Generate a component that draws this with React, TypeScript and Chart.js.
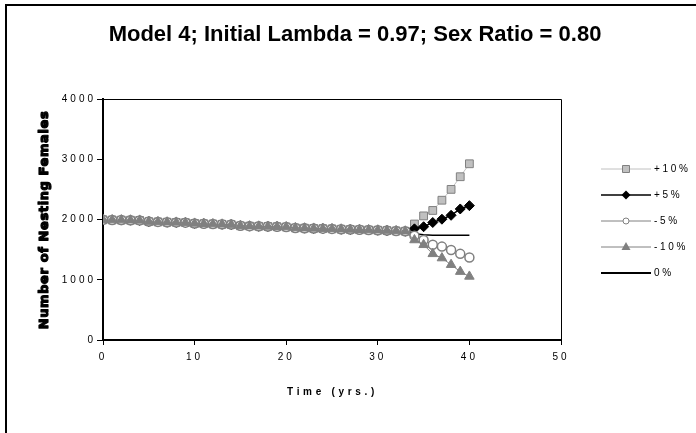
import React, { useEffect, useRef } from "react";
import { Chart, registerables } from "chart.js";

Chart.register(...registerables);

const TITLE = "Model 4; Initial Lambda = 0.97; Sex Ratio = 0.80";
const X_TITLE = "Time (yrs.)";
const Y_TITLE = "Number of Nesting Females";

const YEARS = [0, 1, 2, 3, 4, 5, 6, 7, 8, 9, 10, 11, 12, 13, 14, 15, 16, 17, 18, 19, 20, 21, 22, 23, 24, 25, 26, 27, 28, 29, 30, 31, 32, 33, 34, 35, 36, 37, 38, 39, 40];

// shared history, years 0-33
const HISTORY = [1995, 1992, 1990, 1988, 1985, 1965, 1960, 1955, 1952, 1948, 1935, 1930, 1925, 1920, 1915, 1895, 1890, 1887, 1884, 1880, 1876, 1860, 1856, 1852, 1848, 1844, 1838, 1834, 1830, 1826, 1822, 1816, 1810, 1805];

// projections, years 34-40
const PLUS10 = [1925, 2060, 2150, 2320, 2500, 2710, 2925];
const PLUS5 = [1845, 1880, 1950, 2005, 2070, 2175, 2230];
const MINUS5 = [1730, 1660, 1580, 1550, 1495, 1430, 1370];
const MINUS10 = [1660, 1580, 1430, 1360, 1250, 1135, 1055];
const ZERO = [1765, 1745, 1740, 1740, 1740, 1740, 1740];

const SERIES_LABELS = ["+10%", "+5%", "-5%", "-10%", "0%"];

const X_MIN = 0, X_MAX = 50, X_STEP = 10;
const Y_MIN = 0, Y_MAX = 4000, Y_STEP = 1000;

const toPoints = (proj: number[]) =>
  YEARS.map((x, i) => ({ x, y: i < HISTORY.length ? HISTORY[i] : proj[i - HISTORY.length] }));

const FONT = '"Liberation Sans", Arial, sans-serif';

export default function App() {
  const ref = useRef<HTMLCanvasElement | null>(null);

  useEffect(() => {
    const canvas = ref.current;
    if (!canvas) return;

    const styles = [
      { line: "#c0c0c0", lw: 1, shape: "rect", fill: "#c0c0c0", stroke: "#808080" },
      { line: "#000000", lw: 1.5, shape: "rectRot", fill: "#000000", stroke: "#000000" },
      { line: "#808080", lw: 1, shape: "circle", fill: "#ffffff", stroke: "#808080" },
      { line: "#808080", lw: 1, shape: "triangle", fill: "#808080", stroke: "#808080" },
      { line: "#000000", lw: 1.5, shape: "none", fill: "#000000", stroke: "#000000" },
    ];
    const radii: Record<string, number> = { rect: 5.5, rectRot: 5, circle: 4.5, triangle: 5.5, none: 0 };
    const projs = [PLUS10, PLUS5, MINUS5, MINUS10, ZERO];
    // higher order is drawn first (underneath)
    const orders = [4, 3, 2, 1, 5];

    const datasets = SERIES_LABELS.map((label, i) => {
      const s = styles[i];
      return {
        label,
        data: toPoints(projs[i]),
        borderColor: s.line,
        borderWidth: s.lw,
        pointStyle: s.shape === "none" ? false : (s.shape as any),
        pointRadius: radii[s.shape],
        pointBackgroundColor: s.fill,
        pointBorderColor: s.stroke,
        pointBorderWidth: s.shape === "circle" ? 1.5 : 1,
        tension: 0,
        fill: false,
        order: orders[i],
      };
    });

    const decor = {
      id: "decor",
      beforeDraw(chart: any) {
        const ctx = chart.ctx as any;
        ctx.letterSpacing = "3px";
      },
      afterDraw(chart: any) {
        const ctx = chart.ctx as any;
        const a = chart.chartArea;
        ctx.save();
        // outer chart border
        ctx.strokeStyle = "#000";
        ctx.lineWidth = 2;
        ctx.strokeRect(6, 5, 760, 500);
        // plot frame top/right
        ctx.lineWidth = 1;
        ctx.beginPath();
        ctx.moveTo(a.left, a.top + 0.5);
        ctx.lineTo(a.right + 0.5, a.top + 0.5);
        ctx.lineTo(a.right + 0.5, a.bottom);
        ctx.stroke();

        // title
        ctx.letterSpacing = "0px";
        ctx.fillStyle = "#000";
        ctx.font = `bold 22px ${FONT}`;
        ctx.textAlign = "center";
        ctx.textBaseline = "alphabetic";
        ctx.fillText(TITLE, 355, 41);

        // x title
        ctx.letterSpacing = "3.7px";
        ctx.font = `bold 10px ${FONT}`;
        ctx.textAlign = "left";
        ctx.textBaseline = "middle";
        ctx.fillText(X_TITLE, 287, 392);

        // y title
        ctx.save();
        ctx.translate(45, 220);
        ctx.rotate(-Math.PI / 2);
        ctx.letterSpacing = "0.6px";
        ctx.font = `bold 13px "DejaVu Sans", sans-serif`;
        ctx.textAlign = "center";
        ctx.textBaseline = "middle";
        ctx.strokeStyle = "#000";
        ctx.lineWidth = 1.2;
        ctx.lineJoin = "round";
        ctx.strokeText(Y_TITLE, 0, 0);
        ctx.fillText(Y_TITLE, 0, 0);
        ctx.restore();

        // legend
        const lx0 = 601, lx1 = 651, ly0 = 169, dy = 26;
        SERIES_LABELS.forEach((label, i) => {
          const s = styles[i];
          const y = ly0 + dy * i;
          ctx.strokeStyle = s.line;
          ctx.lineWidth = i === 4 ? 2 : s.lw;
          ctx.beginPath();
          ctx.moveTo(lx0, y);
          ctx.lineTo(lx1, y);
          ctx.stroke();
          const cx = (lx0 + lx1) / 2;
          ctx.fillStyle = s.fill;
          ctx.strokeStyle = s.stroke;
          ctx.lineWidth = 1;
          ctx.beginPath();
          if (s.shape === "rect") {
            ctx.rect(cx - 3.5, y - 3.5, 7, 7);
            ctx.fill();
            ctx.stroke();
          } else if (s.shape === "rectRot") {
            ctx.moveTo(cx, y - 4.5);
            ctx.lineTo(cx + 4.5, y);
            ctx.lineTo(cx, y + 4.5);
            ctx.lineTo(cx - 4.5, y);
            ctx.closePath();
            ctx.fill();
          } else if (s.shape === "circle") {
            ctx.arc(cx, y, 3, 0, Math.PI * 2);
            ctx.fill();
            ctx.stroke();
          } else if (s.shape === "triangle") {
            ctx.moveTo(cx, y - 5);
            ctx.lineTo(cx + 4.5, y + 3);
            ctx.lineTo(cx - 4.5, y + 3);
            ctx.closePath();
            ctx.fill();
          }
          ctx.fillStyle = "#000";
          ctx.letterSpacing = "2.7px";
          ctx.font = `10px ${FONT}`;
          ctx.textAlign = "left";
          ctx.textBaseline = "middle";
          ctx.fillText(label, 654, y);
        });
        ctx.restore();
      },
    };

    const tickFont = { family: FONT, size: 10 };

    const chart = new Chart(canvas, {
      type: "line",
      data: { datasets: datasets as any },
      options: {
        animation: false,
        responsive: false,
        maintainAspectRatio: false,
        layout: { padding: { top: 99, right: 135, left: 0, bottom: 0 } },
        plugins: {
          legend: { display: false },
          title: { display: false },
          tooltip: { enabled: false },
        },
        scales: {
          x: {
            type: "linear",
            min: X_MIN,
            max: X_MAX,
            ticks: { stepSize: X_STEP, color: "#000", font: tickFont, padding: 6, maxRotation: 0, callback: (v: any) => String(v) },
            grid: { drawOnChartArea: false, drawTicks: true, tickLength: 5, color: "#000" },
            border: { color: "#000", width: 2 },
            afterFit: (s: any) => { s.height = 93; },
          },
          y: {
            type: "linear",
            min: Y_MIN,
            max: Y_MAX,
            ticks: { stepSize: Y_STEP, color: "#000", font: tickFont, padding: 1, callback: (v: any) => String(v) },
            grid: { drawOnChartArea: false, drawTicks: true, tickLength: 6, color: "#000" },
            border: { color: "#000", width: 2 },
            afterFit: (s: any) => { s.width = 103; },
          },
        },
      } as any,
      plugins: [decor],
    });

    return () => chart.destroy();
  }, []);

  return (
    <div style={{ position: "fixed", left: 0, top: 0, width: 696, height: 433, background: "#fff" }}>
      <canvas ref={ref} width={696} height={433} style={{ width: 696, height: 433, display: "block" }} />
    </div>
  );
}
